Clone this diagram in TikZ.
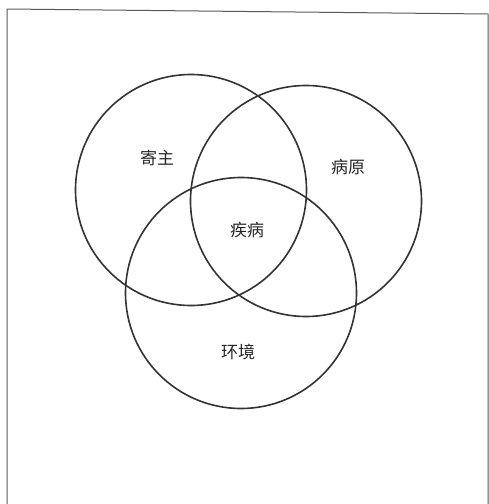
\documentclass[tikz,border=0pt]{standalone}
\usepackage{fontspec}
\newfontfamily\cjk{Noto Sans CJK SC}
\begin{document}
\begin{tikzpicture}[x=1pt,y=-1pt,
  ring/.style={circle,draw=black!80,line width=1.6pt,minimum size=231pt,inner sep=0pt},
  lbl/.style={font=\cjk\fontsize{17}{19}\selectfont,text=black!85,inner sep=0pt},
  frame/.style={draw=black!65,line width=1pt}]
\useasboundingbox (0,0) rectangle (489,504);
\coordinate (fbl) at (7,504);
\coordinate (ftl) at (7,9);
\coordinate (ftr) at (488,14);
\coordinate (fbr) at (488,504);
\draw[frame] (fbl) -- (ftl) -- (ftr) -- (fbr);
\node[ring] (host) at (191,190) {};
\node[ring] (path) at (306,201) {};
\node[ring] (env) at (241,293) {};
\node[lbl] (lhost) at (157,158) {寄主};
\node[lbl] (lpath) at (348,167) {病原};
\node[lbl] (ldis) at (247,230) {疾病};
\node[lbl] (lenv) at (238,352) {环境};
\end{tikzpicture}
\end{document}
